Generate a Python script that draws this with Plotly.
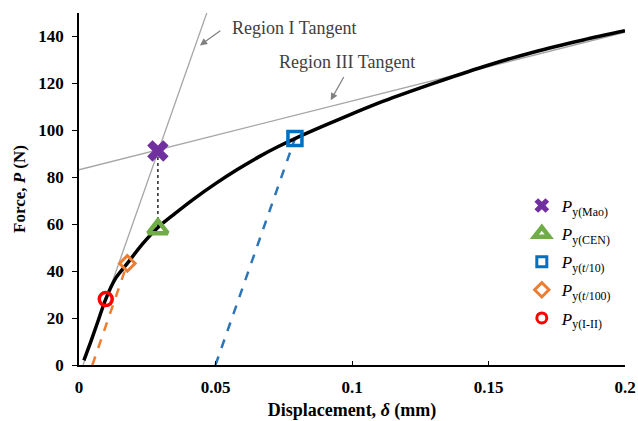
import plotly.graph_objects as go

# ---- data ----
curve_x = [0.0018, 0.0045, 0.0072, 0.0098, 0.0134, 0.0177, 0.0232, 0.0289, 0.035, 0.042,
           0.05, 0.058, 0.066, 0.073, 0.0791, 0.09, 0.1, 0.1115, 0.1298, 0.1481,
           0.1664, 0.1847, 0.2]
curve_y = [2.0, 10.5, 19.5, 28.1, 36.9, 43.3, 51.5, 58.6, 64.4, 70.7,
           77.3, 83.3, 88.8, 93.1, 96.5, 102.1, 107.0, 112.4, 120.0, 127.1,
           133.3, 138.5, 142.4]

tan1_x = [0.0015, 0.0468]
tan1_y = [0.0, 150.0]
tan3_x = [0.0, 0.2]
tan3_y = [83.2, 141.8]

off100_x = [0.0049, 0.0177]
off100_y = [0.0, 43.3]
off10_x = [0.0500, 0.0791]
off10_y = [0.0, 96.5]
drop_x = [0.0289, 0.0289]
drop_y = [91.2, 58.0]

pts_names = ["P<sub>y(Mao)</sub>", "P<sub>y(CEN)</sub>", "P<sub>y(t/10)</sub>",
             "P<sub>y(t/100)</sub>", "P<sub>y(I-II)</sub>"]
legend_labels = ["<i>P</i><sub>y(Mao)</sub>", "<i>P</i><sub>y(CEN)</sub>",
                 "<i>P</i><sub>y(<i>t</i>/10)</sub>", "<i>P</i><sub>y(<i>t</i>/100)</sub>",
                 "<i>P</i><sub>y(I-II)</sub>"]
pts_x = [0.0289, 0.0289, 0.0791, 0.0177, 0.0098]
pts_y = [91.2, 58.0, 96.5, 43.3, 28.1]

x_ticks = [0, 0.05, 0.1, 0.15, 0.2]
x_tick_text = ["0", "0.05", "0.1", "0.15", "0.2"]
y_ticks = [0, 20, 40, 60, 80, 100, 120, 140]

# ---- style ----
FONT = "Liberation Serif"
GRAY = "#A6A6A6"
sym = ["x", "triangle-up-open", "square-open", "diamond-open", "circle-open"]
cols = ["#7030A0", "#70AD47", "#0070C0", "#ED7D31", "#FF0000"]
sizes = [19, 17, 14, 12, 13]
lw = [0, 4.5, 3.5, 3, 3.5]
lsizes = [13, 13, 10, 11, 10]
llw = [0, 4.5, 3, 3, 3]

fig = go.Figure()
fig.add_trace(go.Scatter(x=tan1_x, y=tan1_y, mode="lines", line=dict(color=GRAY, width=1.3),
                         showlegend=False, hoverinfo="skip"))
fig.add_trace(go.Scatter(x=tan3_x, y=tan3_y, mode="lines", line=dict(color=GRAY, width=1.3),
                         showlegend=False, hoverinfo="skip"))
fig.add_trace(go.Scatter(x=off100_x, y=off100_y, mode="lines",
                         line=dict(color="#ED7D31", width=2.5, dash="dash"),
                         showlegend=False, hoverinfo="skip"))
fig.add_trace(go.Scatter(x=off10_x, y=off10_y, mode="lines",
                         line=dict(color="#2E75B6", width=2.5, dash="dash"),
                         showlegend=False, hoverinfo="skip"))
fig.add_trace(go.Scatter(x=curve_x, y=curve_y, mode="lines",
                         line=dict(color="black", width=3.5, shape="spline", smoothing=0.8),
                         showlegend=False))
fig.add_trace(go.Scatter(x=drop_x, y=drop_y, mode="lines",
                         line=dict(color="black", width=1.3, dash="dot"),
                         showlegend=False, hoverinfo="skip"))

for i in range(5):
    fig.add_trace(go.Scatter(x=[pts_x[i]], y=[pts_y[i]], mode="markers", name=pts_names[i],
                             marker=dict(symbol=sym[i], size=sizes[i], color=cols[i],
                                         line=dict(width=lw[i], color=cols[i])),
                             showlegend=False))
for i in range(5):
    fig.add_trace(go.Scatter(x=[None], y=[None], mode="markers", name=legend_labels[i],
                             legendgroup=str(i),
                             marker=dict(symbol=sym[i], size=lsizes[i], color=cols[i],
                                         line=dict(width=llw[i], color=cols[i]))))

ann_font = dict(family=FONT, size=18, color="#404040")
fig.add_annotation(x=0.0786, y=143.8, text="Region I Tangent", showarrow=False, font=ann_font)
fig.add_annotation(x=0.0443, y=136.2, ax=0.0523, ay=142.9, axref="x", ayref="y", text="",
                   showarrow=True, arrowhead=2, arrowsize=1.2, arrowwidth=1.2, arrowcolor="#808080")
fig.add_annotation(x=0.098, y=129.1, text="Region III Tangent", showarrow=False, font=ann_font)
fig.add_annotation(x=0.0922, y=112.8, ax=0.0973, ay=123.4, axref="x", ayref="y", text="",
                   showarrow=True, arrowhead=2, arrowsize=1.2, arrowwidth=1.2, arrowcolor="#808080")

fig.update_layout(
    width=638, height=421,
    margin=dict(l=79, r=13, t=13, b=56),
    paper_bgcolor="white", plot_bgcolor="white",
    font=dict(family=FONT, color="black"),
    legend=dict(x=0.811, y=0.503, xanchor="left", yanchor="top",
                font=dict(family=FONT, size=17, color="black"),
                tracegroupgap=3, bgcolor="rgba(0,0,0,0)"),
    xaxis=dict(range=[0, 0.2], tickvals=x_ticks, ticktext=x_tick_text, automargin=False,
               showgrid=False, zeroline=False, showline=True, linecolor="black", linewidth=1.5,
               ticks="inside", ticklen=4, tickcolor="black", tickwidth=1.2,
               ticklabelstandoff=6,
               tickfont=dict(family=FONT, size=17, color="black", weight="bold"),
               title=dict(text="Displacement, <i>δ</i> (mm)", standoff=14,
                          font=dict(family=FONT, size=18, color="black", weight="bold"))),
    yaxis=dict(range=[0, 150], tickvals=y_ticks, automargin=False,
               showgrid=False, zeroline=False, showline=True, linecolor="black", linewidth=1.5,
               ticks="outside", ticklen=5, tickcolor="black", tickwidth=1.2,
               tickfont=dict(family=FONT, size=17, color="black", weight="bold"),
               ticklabelstandoff=5,
               title=dict(text="Force, <i>P</i> (N)", standoff=8,
                          font=dict(family=FONT, size=17, color="black", weight="bold"))),
)

fig.write_html("out.html")
